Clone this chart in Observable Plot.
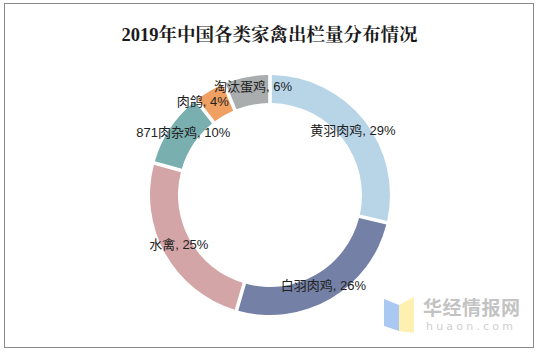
<!DOCTYPE html>
<html><head><meta charset="utf-8">
<script src="https://cdn.jsdelivr.net/npm/d3@7"></script>
<script src="https://cdn.jsdelivr.net/npm/@observablehq/plot@0.6"></script>
<style>
html,body{margin:0;padding:0;background:#fff;}
#wrap{position:relative;width:538px;height:354px;overflow:hidden;}
#frame{position:absolute;left:4px;top:3px;width:528px;height:343px;border:1px solid #8a8a8a;box-sizing:content-box;pointer-events:none;}
#chart{position:absolute;left:0;top:0;}
#wm{position:absolute;left:382px;top:296px;width:145px;height:42px;}
#wm .t1{position:absolute;left:41px;top:0;font:bold 19px/21px "Noto Sans CJK SC",sans-serif;color:#c3c3c3;letter-spacing:0.5px;white-space:nowrap;}
#wm .t2{position:absolute;left:44px;top:25px;font:11px/12px "DejaVu Sans",sans-serif;color:#cfcfcf;letter-spacing:3.2px;white-space:nowrap;}
</style></head>
<body>
<div id="wrap">
  <div id="chart"></div>
  <div id="wm">
    <svg width="34" height="40" style="position:absolute;left:0;top:0">
      <polygon points="2,3 17,9 17,35 2,30" fill="#a9c9f2"/>
      <polygon points="17,9 32,1 32,37 17,35" fill="#fdf0b0"/>
    </svg>
    <div class="t1">华经情报网</div>
    <div class="t2">huaon.com</div>
  </div>
  <div id="frame"></div>
</div>
<script>
const title = "2019年中国各类家禽出栏量分布情况";
const categories = ["黄羽肉鸡", "白羽肉鸡", "水禽", "871肉杂鸡", "肉鸽", "淘汰蛋鸡"];
const shares = [29, 26, 25, 10, 4, 6];
const colors = ["#b8d4e7", "#7480a5", "#d4a5a6", "#7aafb0", "#f0a062", "#a9adad"];
// label nudges (pixels) to mimic the reference's collision-avoided label placement
const labelDx = [0, 0, 0, 0, -15, 3];
const labelDy = [0, 0, -2, -4, -3, -6];

const R = 120, r0 = 92, labelR = 105;
const data = categories.map((c, i) => ({category: c, value: shares[i], color: colors[i]}));
const pie = d3.pie().value(d => d.value).sort(null).padAngle(0.024);
const arcsData = pie(data);
const labels = arcsData.map((a, i) => {
  const m = (a.startAngle + a.endAngle) / 2;
  return {label: `${a.data.category}, ${a.data.value}%`,
    x: labelR * Math.sin(m) + labelDx[i], y: labelR * Math.cos(m) - labelDy[i]};
});

function ringMark(index, scales, values, dimensions, context) {
  const doc = context && context.document ? context.document : document;
  const g = doc.createElementNS("http://www.w3.org/2000/svg", "g");
  const sx = scales && scales.x ? scales.x : (v => v + 270);
  const sy = scales && scales.y ? scales.y : (v => 195 - v);
  const cx = sx(0), cy = sy(0), k = Math.abs(sx(1) - sx(0));
  g.setAttribute("transform", `translate(${cx},${cy})`);
  const arc = d3.arc().innerRadius(r0 * k).outerRadius(R * k);
  for (const a of arcsData) {
    const p = doc.createElementNS("http://www.w3.org/2000/svg", "path");
    p.setAttribute("d", arc(a));
    p.setAttribute("fill", a.data.color);
    g.appendChild(p);
  }
  return g;
}

const plot = Plot.plot({
  width: 538, height: 354,
  margin: 0,
  x: {domain: [-270, 268], axis: null},
  y: {domain: [-159, 195], axis: null},
  style: {background: "transparent", overflow: "visible"},
  marks: [
    ringMark,
    Plot.text(labels, {x: "x", y: "y", text: "label", fontSize: 13, fill: "#222",
      fontFamily: "'Liberation Sans','Noto Sans CJK SC',sans-serif", textAnchor: "middle"}),
    Plot.text([title], {frameAnchor: "top", dy: 27, text: d => d, fontSize: 18.5, fontWeight: "bold",
      fill: "#1a1a1a", fontFamily: "'Liberation Serif','Noto Serif CJK SC','Noto Sans CJK SC',serif"})
  ]
});
document.getElementById("chart").appendChild(plot);
</script>
</body></html>
